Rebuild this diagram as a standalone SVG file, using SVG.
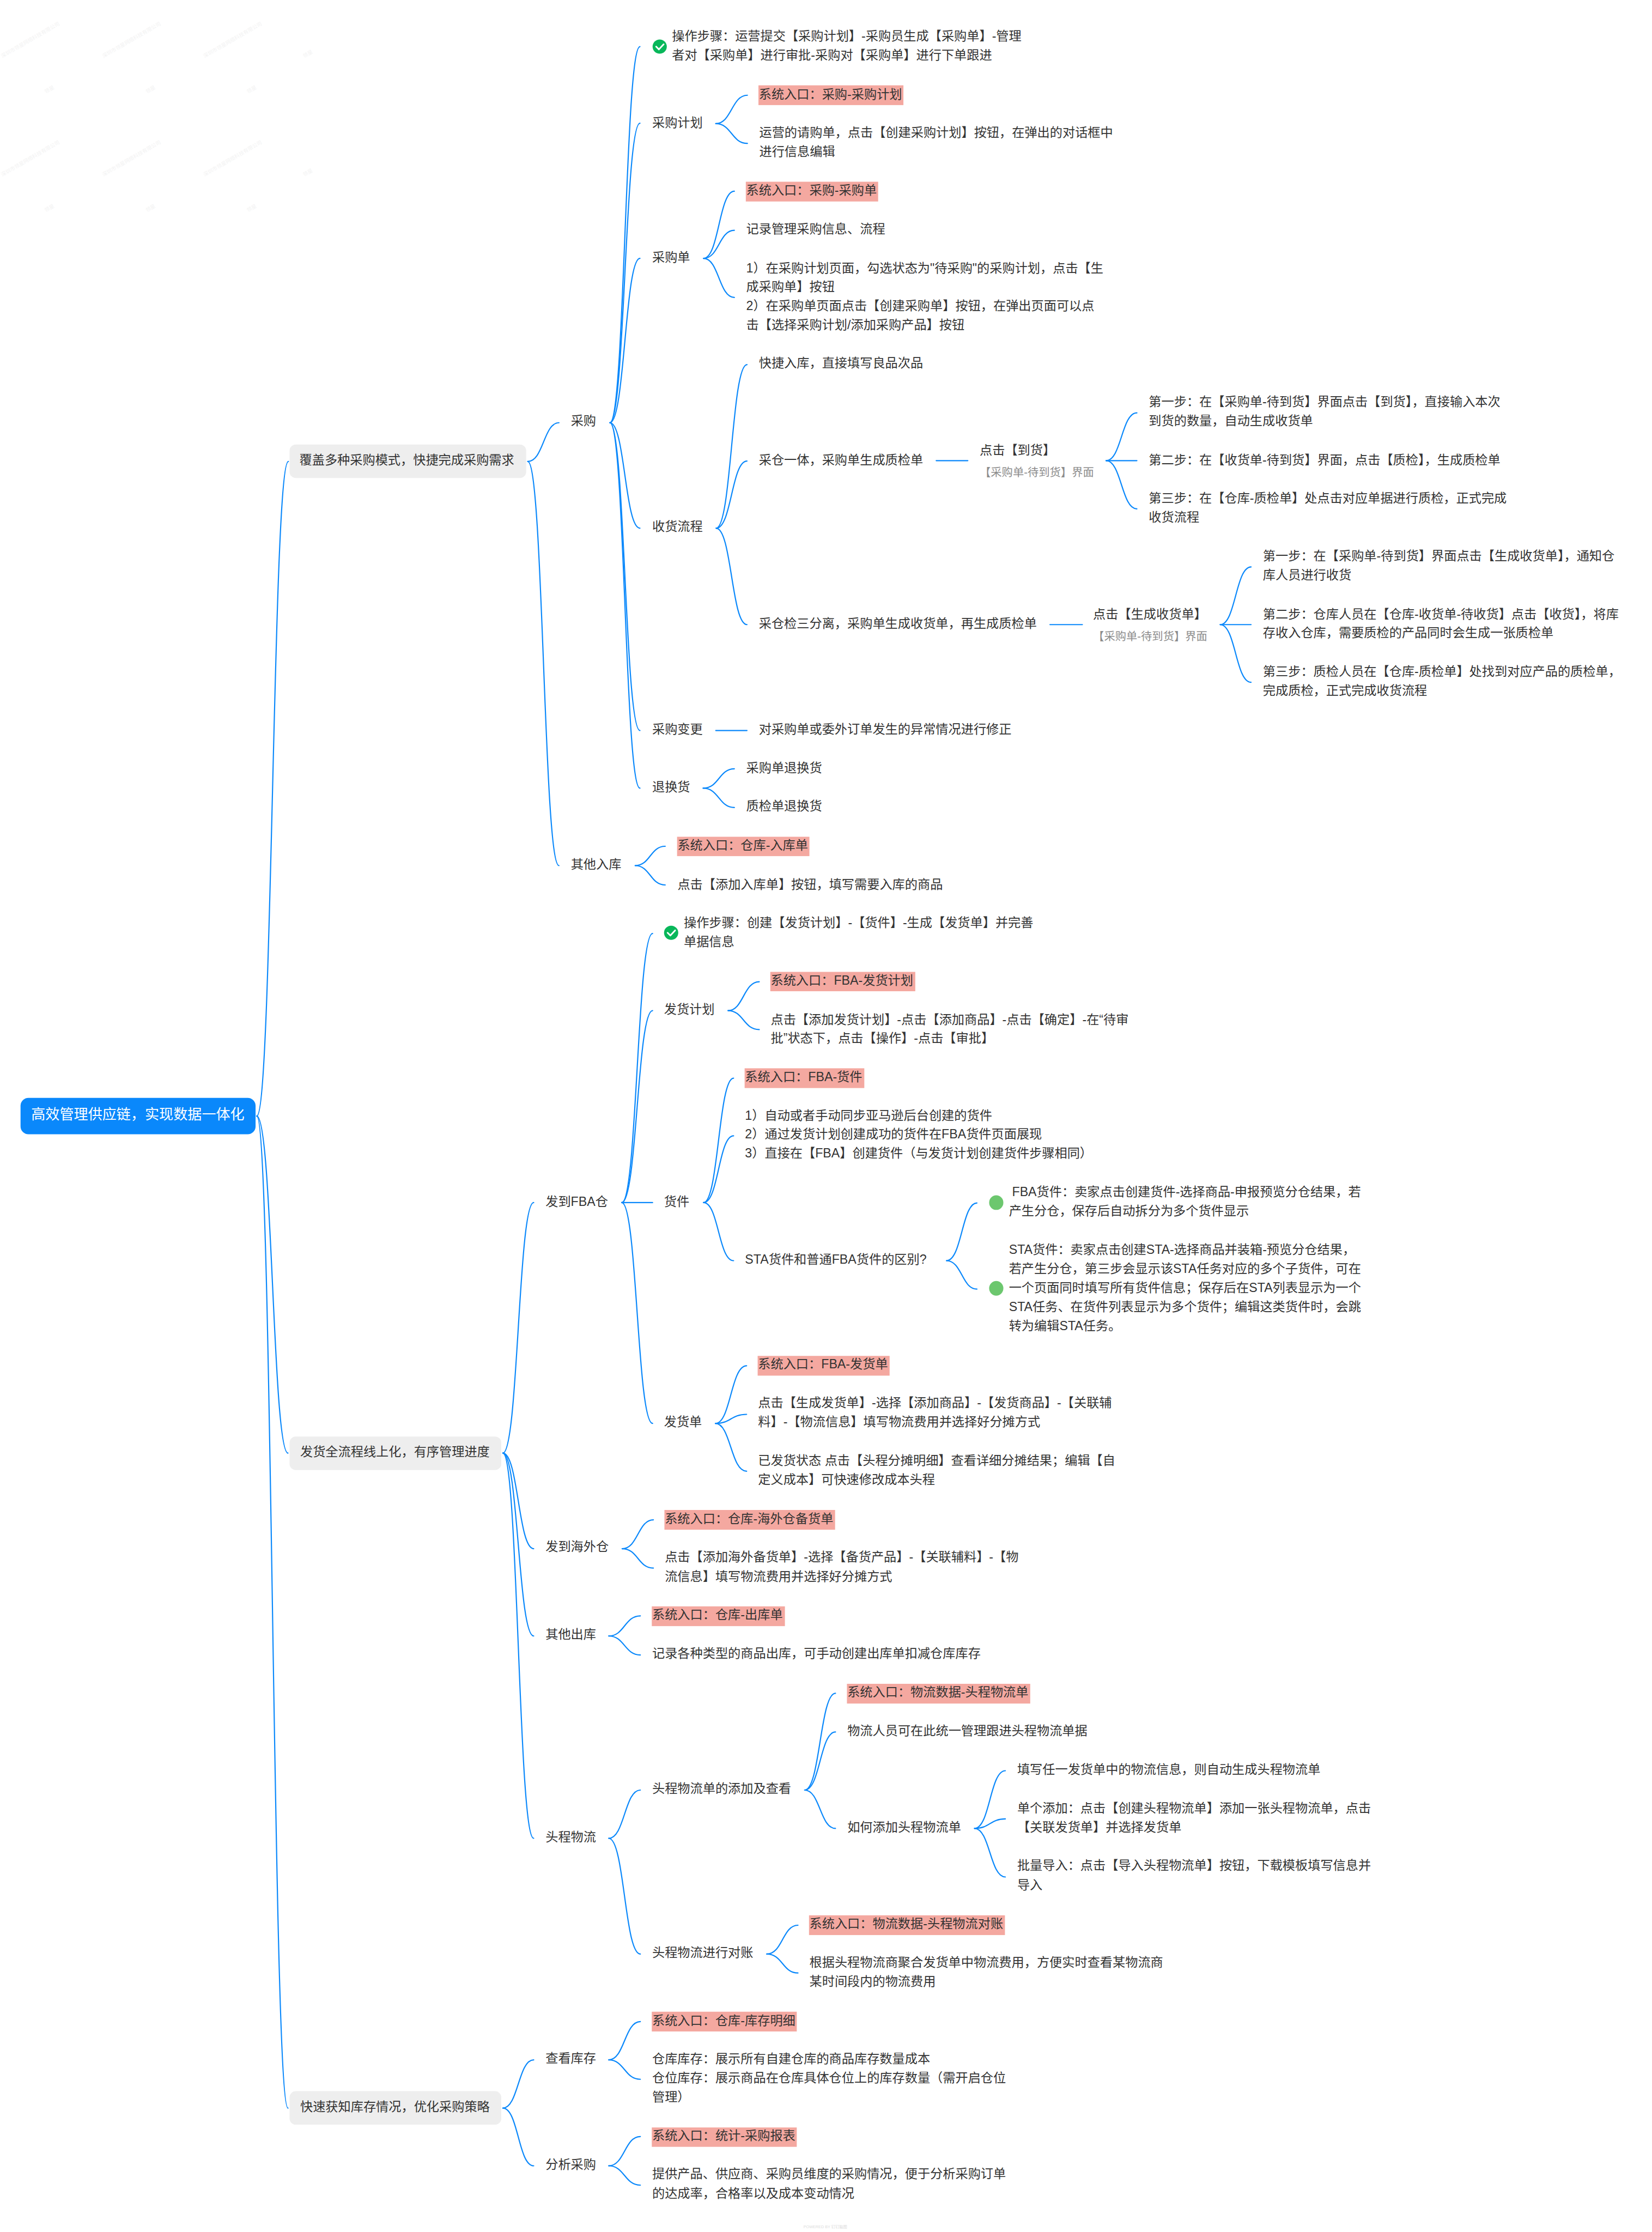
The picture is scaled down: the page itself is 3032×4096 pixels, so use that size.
<svg xmlns="http://www.w3.org/2000/svg" width="3032" height="4096" viewBox="0 0 3032 4096">
<style>
text{font-family:"Liberation Sans","Noto Sans CJK SC",sans-serif;font-size:32px;fill:#333}
.c{fill:none;stroke:#0a88fb;stroke-width:3;stroke-linecap:round}
.hl{fill:#f4a8a0}
.l1{fill:#eeeeee}
.sub{font-size:28px;fill:#8c8c8c}
.wm{font-size:13px;fill:#f3f3f3}
.wm2{font-size:13px;fill:#f3f3f3}
.dot{fill:#6cc76e}
.ok{fill:#08b75a}
.tick{fill:none;stroke:#fff;stroke-width:4;stroke-linecap:round;stroke-linejoin:round}
</style>
<rect width="3032" height="4096" fill="#fff"/>
<g transform="scale(0.72501)">
<g id="watermarks">
<text class="wm" transform="translate(6 147) rotate(-30)">深圳市领星网络科技有限公司</text>
<text class="wm" transform="translate(262 147) rotate(-30)">深圳市领星网络科技有限公司</text>
<text class="wm" transform="translate(518 147) rotate(-30)">深圳市领星网络科技有限公司</text>
<text class="wm" transform="translate(6 447) rotate(-30)">深圳市领星网络科技有限公司</text>
<text class="wm" transform="translate(262 447) rotate(-30)">深圳市领星网络科技有限公司</text>
<text class="wm" transform="translate(518 447) rotate(-30)">深圳市领星网络科技有限公司</text>
<text class="wm2" transform="translate(116 237) rotate(-30)">领星</text>
<text class="wm2" transform="translate(372 237) rotate(-30)">领星</text>
<text class="wm2" transform="translate(628 237) rotate(-30)">领星</text>
<text class="wm2" transform="translate(770 147) rotate(-30)">领星</text>
<text class="wm2" transform="translate(116 537) rotate(-30)">领星</text>
<text class="wm2" transform="translate(372 537) rotate(-30)">领星</text>
<text class="wm2" transform="translate(628 537) rotate(-30)">领星</text>
<text class="wm2" transform="translate(770 447) rotate(-30)">领星</text>
</g>
<g id="connectors">
<path class="c" d="M650 2825C690 2825 690 1168 730 1168"/>
<path class="c" d="M650 2825C690 2825 690 3678 729 3678"/>
<path class="c" d="M650 2825C690 2825 690 5336 729 5336"/>
<path class="c" d="M1336 1168C1376 1168 1376 1070 1415 1070"/>
<path class="c" d="M1336 1168C1376 1168 1376 2191 1415 2191"/>
<path class="c" d="M1544 1070C1582 1070 1582 118 1620 118"/>
<path class="c" d="M1544 1070C1582 1070 1582 312 1620 312"/>
<path class="c" d="M1544 1070C1582 1070 1582 654 1620 654"/>
<path class="c" d="M1544 1070C1582 1070 1582 1337 1620 1337"/>
<path class="c" d="M1544 1070C1582 1070 1582 1849 1620 1849"/>
<path class="c" d="M1544 1070C1582 1070 1582 1995 1620 1995"/>
<path class="c" d="M1812 313C1852 313 1852 241 1892 241"/>
<path class="c" d="M1812 313C1852 313 1852 363 1892 363"/>
<path class="c" d="M1781 654C1820 654 1820 484 1859 484"/>
<path class="c" d="M1781 654C1820 654 1820 583 1859 583"/>
<path class="c" d="M1781 654C1820 654 1820 753 1859 753"/>
<path class="c" d="M1813 1337C1852 1337 1852 923 1891 923"/>
<path class="c" d="M1813 1337C1852 1337 1852 1167 1891 1167"/>
<path class="c" d="M1813 1337C1852 1337 1852 1581 1891 1581"/>
<path class="c" d="M2370 1166H2450"/>
<path class="c" d="M2800 1166C2839 1166 2839 1045 2878 1045"/>
<path class="c" d="M2800 1166H2878"/>
<path class="c" d="M2800 1166C2839 1166 2839 1288 2878 1288"/>
<path class="c" d="M2658 1581H2740"/>
<path class="c" d="M3089 1581C3128 1581 3128 1435 3167 1435"/>
<path class="c" d="M3089 1581H3167"/>
<path class="c" d="M3089 1581C3128 1581 3128 1727 3167 1727"/>
<path class="c" d="M1812 1849H1891"/>
<path class="c" d="M1780 1995C1820 1995 1820 1946 1859 1946"/>
<path class="c" d="M1780 1995C1820 1995 1820 2044 1859 2044"/>
<path class="c" d="M1608 2191C1646 2191 1646 2142 1684 2142"/>
<path class="c" d="M1608 2191C1646 2191 1646 2240 1684 2240"/>
<path class="c" d="M1273 3678C1312 3678 1312 3044 1351 3044"/>
<path class="c" d="M1273 3678C1312 3678 1312 3920 1351 3920"/>
<path class="c" d="M1273 3678C1312 3678 1312 4141 1351 4141"/>
<path class="c" d="M1273 3678C1312 3678 1312 4653 1351 4653"/>
<path class="c" d="M1574 3044C1613 3044 1613 2363 1652 2363"/>
<path class="c" d="M1574 3044C1613 3044 1613 2558 1652 2558"/>
<path class="c" d="M1574 3044H1652"/>
<path class="c" d="M1574 3044C1613 3044 1613 3603 1652 3603"/>
<path class="c" d="M1843 2558C1882 2558 1882 2485 1922 2485"/>
<path class="c" d="M1843 2558C1882 2558 1882 2606 1922 2606"/>
<path class="c" d="M1781 3044C1819 3044 1819 2729 1857 2729"/>
<path class="c" d="M1781 3044C1819 3044 1819 2875 1857 2875"/>
<path class="c" d="M1781 3044C1819 3044 1819 3191 1857 3191"/>
<path class="c" d="M2396 3191C2435 3191 2435 3045 2473 3045"/>
<path class="c" d="M2396 3191C2435 3191 2435 3263 2473 3263"/>
<path class="c" d="M1811 3603C1850 3603 1850 3457 1890 3457"/>
<path class="c" d="M1811 3603C1850 3603 1850 3580 1890 3580"/>
<path class="c" d="M1811 3603C1850 3603 1850 3724 1890 3724"/>
<path class="c" d="M1575 3920C1615 3920 1615 3847 1654 3847"/>
<path class="c" d="M1575 3920C1615 3920 1615 3969 1654 3969"/>
<path class="c" d="M1541 4141C1581 4141 1581 4090 1621 4090"/>
<path class="c" d="M1541 4141C1581 4141 1581 4189 1621 4189"/>
<path class="c" d="M1541 4653C1581 4653 1581 4531 1621 4531"/>
<path class="c" d="M1541 4653C1581 4653 1581 4946 1621 4946"/>
<path class="c" d="M2037 4531C2076 4531 2076 4286 2115 4286"/>
<path class="c" d="M2037 4531C2076 4531 2076 4384 2115 4384"/>
<path class="c" d="M2037 4531C2076 4531 2076 4628 2115 4628"/>
<path class="c" d="M2467 4628C2506 4628 2506 4482 2545 4482"/>
<path class="c" d="M2467 4628C2506 4628 2506 4604 2545 4604"/>
<path class="c" d="M2467 4628C2506 4628 2506 4751 2545 4751"/>
<path class="c" d="M1941 4946C1981 4946 1981 4873 2020 4873"/>
<path class="c" d="M1941 4946C1981 4946 1981 4994 2020 4994"/>
<path class="c" d="M1273 5336C1312 5336 1312 5214 1351 5214"/>
<path class="c" d="M1273 5336C1312 5336 1312 5482 1351 5482"/>
<path class="c" d="M1541 5214C1581 5214 1581 5117 1621 5117"/>
<path class="c" d="M1541 5214C1581 5214 1581 5263 1621 5263"/>
<path class="c" d="M1541 5482C1581 5482 1581 5408 1621 5408"/>
<path class="c" d="M1541 5482C1581 5482 1581 5531 1621 5531"/>
</g>
<g id="root"><rect x="52" y="2779" width="595" height="92" rx="20" fill="#0a88fb"/><text x="79" y="2833" style="font-size:36px;fill:#fff">高效管理供应链，实现数据一体化</text></g>
<g id="n1"><rect class="l1" x="733" y="1125" width="599" height="85" rx="16"/><text x="758" y="1175">覆盖多种采购模式，快捷完成采购需求</text></g>
<g id="n2"><rect class="l1" x="733" y="3636" width="536" height="85" rx="16"/><text x="760" y="3685">发货全流程线上化，有序管理进度</text></g>
<g id="n3"><rect class="l1" x="733" y="5293" width="536" height="85" rx="16"/><text x="760" y="5343">快速获知库存情况，优化采购策略</text></g>
<g id="n-caigou"><text x="1445" y="1076">采购</text></g>
<g id="n-check1"><ellipse class="ok" cx="1670" cy="118" rx="18" ry="18"/><path class="tick" d="M1661 118l7 7 12-13"/><text x="1701" y="102">操作步骤：运营提交【采购计划】-采购员生成【采购单】-管理</text><text x="1701" y="150">者对【采购单】进行审批-采购对【采购单】进行下单跟进</text></g>
<g id="n-plan"><text x="1651" y="322">采购计划</text></g>
<g id="n-plan-a"><rect class="hl" x="1920" y="216" width="367" height="50"/><text x="1921" y="249">系统入口：采购-采购计划</text></g>
<g id="n-plan-b"><text x="1922" y="346">运营的请购单，点击【创建采购计划】按钮，在弹出的对话框中</text><text x="1922" y="394">进行信息编辑</text></g>
<g id="n-po"><text x="1651" y="662">采购单</text></g>
<g id="n-po-a"><rect class="hl" x="1888" y="460" width="335" height="50"/><text x="1889" y="492">系统入口：采购-采购单</text></g>
<g id="n-po-b"><text x="1889" y="591">记录管理采购信息、流程</text></g>
<g id="n-po-c"><text x="1889" y="689">1）在采购计划页面，勾选状态为"待采购"的采购计划，点击【生</text><text x="1889" y="737">成采购单】按钮</text><text x="1889" y="785">2）在采购单页面点击【创建采购单】按钮，在弹出页面可以点</text><text x="1889" y="833">击【选择采购计划/添加采购产品】按钮</text></g>
<g id="n-recv"><text x="1651" y="1344">收货流程</text></g>
<g id="n-recv-a"><text x="1921" y="930">快捷入库，直接填写良品次品</text></g>
<g id="n-recv-b"><text x="1921" y="1175">采仓一体，采购单生成质检单</text></g>
<g id="n-recv-b1"><text x="2480" y="1150">点击【到货】</text><text class="sub" x="2480" y="1206">【采购单-待到货】界面</text></g>
<g id="n-recv-b2"><text x="2908" y="1028">第一步：在【采购单-待到货】界面点击【到货】，直接输入本次</text><text x="2908" y="1076">到货的数量，自动生成收货单</text></g>
<g id="n-recv-b3"><text x="2908" y="1175">第二步：在【收货单-待到货】界面，点击【质检】，生成质检单</text></g>
<g id="n-recv-b4"><text x="2908" y="1272">第三步：在【仓库-质检单】处点击对应单据进行质检，正式完成</text><text x="2908" y="1320">收货流程</text></g>
<g id="n-recv-c"><text x="1921" y="1589">采仓检三分离，采购单生成收货单，再生成质检单</text></g>
<g id="n-recv-c1"><text x="2767" y="1565">点击【生成收货单】</text><text class="sub" x="2767" y="1621">【采购单-待到货】界面</text></g>
<g id="n-recv-c2"><text x="3197" y="1418">第一步：在【采购单-待到货】界面点击【生成收货单】，通知仓</text><text x="3197" y="1466">库人员进行收货</text></g>
<g id="n-recv-c3"><text x="3197" y="1565">第二步：仓库人员在【仓库-收货单-待收货】点击【收货】，将库</text><text x="3197" y="1613">存收入仓库，需要质检的产品同时会生成一张质检单</text></g>
<g id="n-recv-c4"><text x="3197" y="1711">第三步：质检人员在【仓库-质检单】处找到对应产品的质检单，</text><text x="3197" y="1759">完成质检，正式完成收货流程</text></g>
<g id="n-chg"><text x="1651" y="1857">采购变更</text></g>
<g id="n-chg-a"><text x="1921" y="1857">对采购单或委外订单发生的异常情况进行修正</text></g>
<g id="n-ret"><text x="1651" y="2003">退换货</text></g>
<g id="n-ret-a"><text x="1889" y="1954">采购单退换货</text></g>
<g id="n-ret-b"><text x="1889" y="2051">质检单退换货</text></g>
<g id="n-in"><text x="1445" y="2199">其他入库</text></g>
<g id="n-in-a"><rect class="hl" x="1714" y="2118" width="335" height="49"/><text x="1715" y="2150">系统入口：仓库-入库单</text></g>
<g id="n-in-b"><text x="1715" y="2249">点击【添加入库单】按钮，填写需要入库的商品</text></g>
<g id="n-fba"><text x="1381" y="3052">发到FBA仓</text></g>
<g id="n-check2"><ellipse class="ok" cx="1699" cy="2361" rx="18" ry="18"/><path class="tick" d="M1690 2361l7 7 12-13"/><text x="1731" y="2346">操作步骤：创建【发货计划】-【货件】-生成【发货单】并完善</text><text x="1731" y="2394">单据信息</text></g>
<g id="n-shipplan"><text x="1681" y="2565">发货计划</text></g>
<g id="n-shipplan-a"><rect class="hl" x="1950" y="2460" width="367" height="49"/><text x="1951" y="2493">系统入口：FBA-发货计划</text></g>
<g id="n-shipplan-b"><text x="1951" y="2591">点击【添加发货计划】-点击【添加商品】-点击【确定】-在“待审</text><text x="1951" y="2639">批”状态下，点击【操作】-点击【审批】</text></g>
<g id="n-cargo"><text x="1681" y="3052">货件</text></g>
<g id="n-cargo-a"><rect class="hl" x="1885" y="2704" width="303" height="50"/><text x="1886" y="2737">系统入口：FBA-货件</text></g>
<g id="n-cargo-b"><text x="1886" y="2835">1）自动或者手动同步亚马逊后台创建的货件</text><text x="1886" y="2882">2）通过发货计划创建成功的货件在FBA货件页面展现</text><text x="1886" y="2930">3）直接在【FBA】创建货件（与发货计划创建货件步骤相同）</text></g>
<g id="n-sta"><text x="1886" y="3198">STA货件和普通FBA货件的区别?</text></g>
<g id="n-sta-a"><ellipse class="dot" cx="2522" cy="3044" rx="18" ry="18.500"/><text x="2562" y="3028">FBA货件：卖家点击创建货件-选择商品-申报预览分仓结果，若</text><text x="2554" y="3076">产生分仓，保存后自动拆分为多个货件显示</text></g>
<g id="n-sta-b"><ellipse class="dot" cx="2522" cy="3261" rx="18" ry="18.500"/><text x="2554" y="3174">STA货件：卖家点击创建STA-选择商品并装箱-预览分仓结果，</text><text x="2554" y="3222">若产生分仓，第三步会显示该STA任务对应的多个子货件，可在</text><text x="2554" y="3270">一个页面同时填写所有货件信息；保存后在STA列表显示为一个</text><text x="2554" y="3319">STA任务、在货件列表显示为多个货件；编辑这类货件时，会跳</text><text x="2554" y="3367">转为编辑STA任务。</text></g>
<g id="n-ship"><text x="1681" y="3610">发货单</text></g>
<g id="n-ship-a"><rect class="hl" x="1918" y="3432" width="334" height="50"/><text x="1919" y="3464">系统入口：FBA-发货单</text></g>
<g id="n-ship-b"><text x="1919" y="3562">点击【生成发货单】-选择【添加商品】-【发货商品】-【关联辅</text><text x="1919" y="3610">料】-【物流信息】填写物流费用并选择好分摊方式</text></g>
<g id="n-ship-c"><text x="1919" y="3708">已发货状态 点击【头程分摊明细】查看详细分摊结果；编辑【自</text><text x="1919" y="3756">定义成本】可快速修改成本头程</text></g>
<g id="n-oversea"><text x="1381" y="3926">发到海外仓</text></g>
<g id="n-oversea-a"><rect class="hl" x="1682" y="3822" width="432" height="50"/><text x="1683" y="3855">系统入口：仓库-海外仓备货单</text></g>
<g id="n-oversea-b"><text x="1683" y="3952">点击【添加海外备货单】-选择【备货产品】-【关联辅料】-【物</text><text x="1683" y="4001">流信息】填写物流费用并选择好分摊方式</text></g>
<g id="n-out"><text x="1381" y="4147">其他出库</text></g>
<g id="n-out-a"><rect class="hl" x="1650" y="4066" width="337" height="50"/><text x="1651" y="4098">系统入口：仓库-出库单</text></g>
<g id="n-out-b"><text x="1651" y="4196">记录各种类型的商品出库，可手动创建出库单扣减仓库库存</text></g>
<g id="n-hl"><text x="1381" y="4660">头程物流</text></g>
<g id="n-hl1"><text x="1651" y="4538">头程物流单的添加及查看</text></g>
<g id="n-hl1-a"><rect class="hl" x="2144" y="4262" width="464" height="50"/><text x="2145" y="4294">系统入口：物流数据-头程物流单</text></g>
<g id="n-hl1-b"><text x="2145" y="4391">物流人员可在此统一管理跟进头程物流单据</text></g>
<g id="n-hl1-c"><text x="2145" y="4636">如何添加头程物流单</text></g>
<g id="n-hl1-c1"><text x="2575" y="4489">填写任一发货单中的物流信息，则自动生成头程物流单</text></g>
<g id="n-hl1-c2"><text x="2575" y="4588">单个添加：点击【创建头程物流单】添加一张头程物流单，点击</text><text x="2575" y="4636">【关联发货单】并选择发货单</text></g>
<g id="n-hl1-c3"><text x="2575" y="4733">批量导入：点击【导入头程物流单】按钮，下载模板填写信息并</text><text x="2575" y="4782">导入</text></g>
<g id="n-hl2"><text x="1651" y="4953">头程物流进行对账</text></g>
<g id="n-hl2-a"><rect class="hl" x="2048" y="4848" width="496" height="50"/><text x="2049" y="4880">系统入口：物流数据-头程物流对账</text></g>
<g id="n-hl2-b"><text x="2049" y="4978">根据头程物流商聚合发货单中物流费用，方便实时查看某物流商</text><text x="2049" y="5026">某时间段内的物流费用</text></g>
<g id="n-stock"><text x="1381" y="5221">查看库存</text></g>
<g id="n-stock-a"><rect class="hl" x="1650" y="5092" width="367" height="50"/><text x="1651" y="5125">系统入口：仓库-库存明细</text></g>
<g id="n-stock-b"><text x="1651" y="5222">仓库库存：展示所有自建仓库的商品库存数量成本</text><text x="1651" y="5270">仓位库存：展示商品在仓库具体仓位上的库存数量（需开启仓位</text><text x="1651" y="5318">管理）</text></g>
<g id="n-ana"><text x="1381" y="5489">分析采购</text></g>
<g id="n-ana-a"><rect class="hl" x="1650" y="5385" width="367" height="49"/><text x="1651" y="5417">系统入口：统计-采购报表</text></g>
<g id="n-ana-b"><text x="1651" y="5513">提供产品、供应商、采购员维度的采购情况，便于分析采购订单</text><text x="1651" y="5562">的达成率，合格率以及成本变动情况</text></g>
<g id="footer"><text x="2034" y="5640" style="font-size:10px;fill:#dcdcdc">POWERED BY 钉钉脑图</text></g>
</g>
</svg>
